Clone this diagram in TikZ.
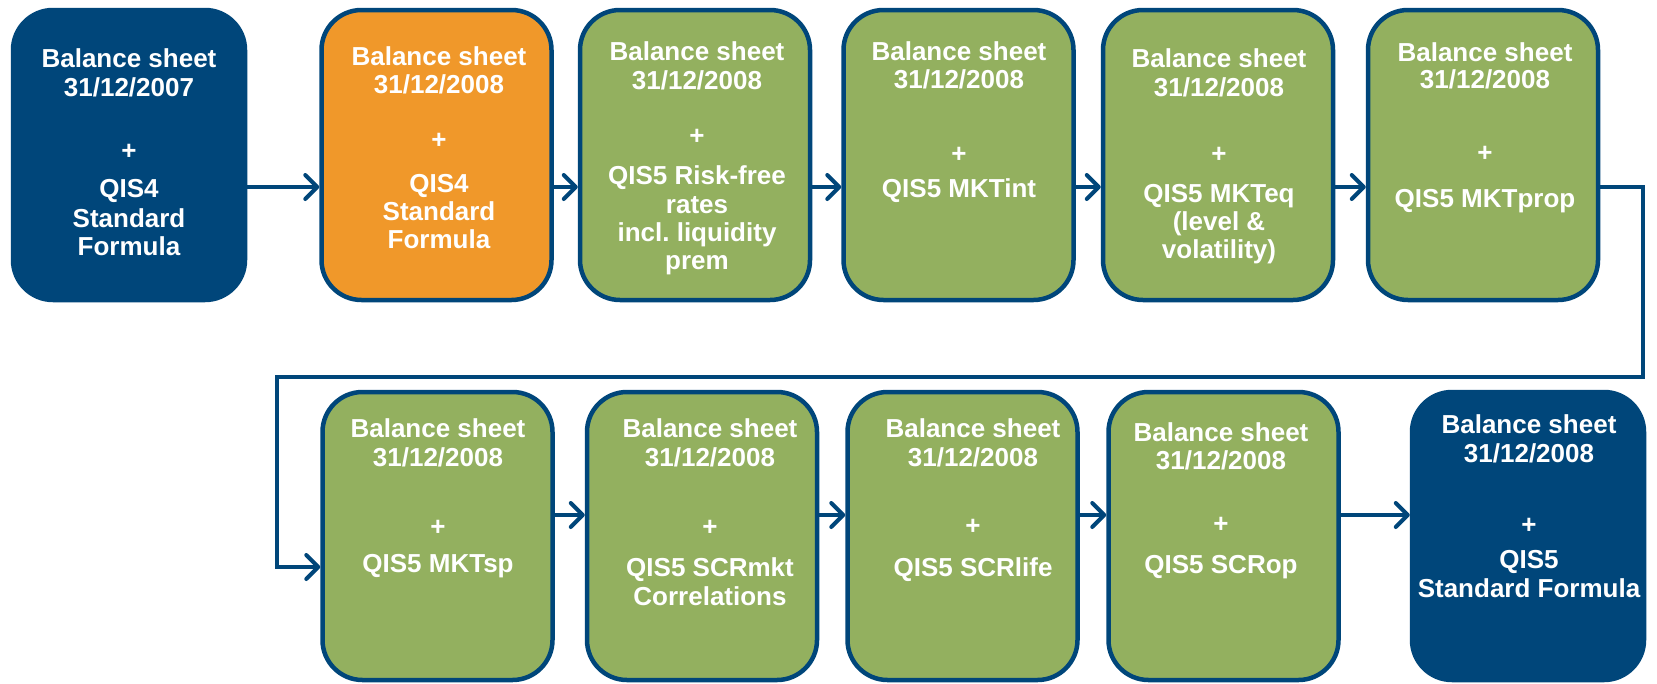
\documentclass[tikz,border=0pt]{standalone}
\usepackage{fontspec}
\setmainfont{Liberation Sans}
\usetikzlibrary{arrows.meta,calc}
\definecolor{navy}{RGB}{0,70,122}
\definecolor{qorange}{RGB}{240,152,42}
\definecolor{qgreen}{RGB}{147,176,95}
\frenchspacing
\newcommand\boxtext[3]{%
  \foreach \yy/\ttx [count=\i] in {#3} \node[txt] (#1-\i) at (#2,\yy) {\ttx};}
\begin{document}
\begin{tikzpicture}[x=1pt,y=-1pt,
  box/.style={rectangle, rounded corners=40pt, draw=navy, line width=4.5pt,
    inner sep=0pt, minimum width=230pt, minimum height=290pt},
  gbox/.style={box, fill=qgreen},
  obox/.style={box, fill=qorange},
  nbox/.style={box, fill=navy, minimum width=232pt},
  txt/.style={text=white, font=\bfseries\fontsize{26}{29}\selectfont, anchor=base, inner sep=0pt},
  arr/.style={draw=navy, line width=4pt, line join=miter, -{Straight Barb[length=12pt,width=24pt,round]}}]
\fill[white] (0,0) rectangle (1657,683);
\useasboundingbox (0,0) rectangle (1657,683);
% row 1
\node[nbox] (b1) at (129,155) {};
\node[obox] (b2) at (436.5,155) {};
\node[gbox] (b3) at (695,155) {};
\node[gbox] (b4) at (958.5,155) {};
\node[gbox] (b5) at (1218,155) {};
\node[gbox] (b6) at (1483,155) {};
% row 2
\node[gbox, minimum height=288pt] (b7) at (437.5,536) {};
\node[gbox, minimum height=288pt] (b8) at (702,536) {};
\node[gbox, minimum height=288pt] (b9) at (962.5,536) {};
\node[gbox, minimum height=288pt] (b10) at (1223.5,536) {};
\node[nbox, minimum height=288pt] (b11) at (1528,536) {};
% texts
\boxtext{b1}{129}{67/Balance sheet, 96/{31/12/2007}, 159/+, 197/QIS4, 227/Standard, 255/Formula}
\boxtext{b2}{439}{65/Balance sheet, 93/{31/12/2008}, 148/+, 192/QIS4, 220/Standard, 248/Formula}
\boxtext{b3}{697}{60/Balance sheet, 89/{31/12/2008}, 144/+, 184/QIS5 Risk-free, 213/rates, 241/incl. liquidity, 269/prem}
\boxtext{b4}{959}{60/Balance sheet, 88/{31/12/2008}, 162/+, 197/QIS5 MKTint}
\boxtext{b5}{1219}{67/Balance sheet, 96/{31/12/2008}, 162/+, 202/QIS5 MKTeq, 230/{(level \&}, 258/{volatility)}}
\boxtext{b6}{1485}{61/Balance sheet, 88/{31/12/2008}, 161/+, 207/QIS5 MKTprop}
\boxtext{b7}{438}{437/Balance sheet, 466/{31/12/2008}, 535/+, 572/QIS5 MKTsp}
\boxtext{b8}{710}{437/Balance sheet, 466/{31/12/2008}, 535/+, 576/QIS5 SCRmkt, 605/Correlations}
\boxtext{b9}{973}{437/Balance sheet, 466/{31/12/2008}, 534/+, 576/QIS5 SCRlife}
\boxtext{b10}{1221}{441/Balance sheet, 469/{31/12/2008}, 532/+, 573/QIS5 SCRop}
\boxtext{b11}{1529}{433/Balance sheet, 462/{31/12/2008}, 533/+, 568/QIS5, 597/Standard Formula}
% connectors
\draw[arr] ([yshift=-32pt]b1.east) -- ([yshift=-32pt]b2.west);
\draw[arr] ([yshift=-32pt]b2.east) -- ([yshift=-32pt]b3.west);
\draw[arr] ([yshift=-32pt]b3.east) -- ([yshift=-32pt]b4.west);
\draw[arr] ([yshift=-32pt]b4.east) -- ([yshift=-32pt]b5.west);
\draw[arr] ([yshift=-32pt]b5.east) -- ([yshift=-32pt]b6.west);
\coordinate (lr) at (1643,377);
\coordinate (ll) at (277,377);
\draw[arr] ([yshift=-32pt]b6.east) -| (lr) -- (ll) |- ([yshift=-31pt]b7.west);
\draw[arr] ([yshift=21pt]b7.east) -- ([yshift=21pt]b8.west);
\draw[arr] ([yshift=21pt]b8.east) -- ([yshift=21pt]b9.west);
\draw[arr] ([yshift=21pt]b9.east) -- ([yshift=21pt]b10.west);
\draw[arr] ([yshift=21pt]b10.east) -- ([yshift=21pt]b11.west);
\end{tikzpicture}
\end{document}
